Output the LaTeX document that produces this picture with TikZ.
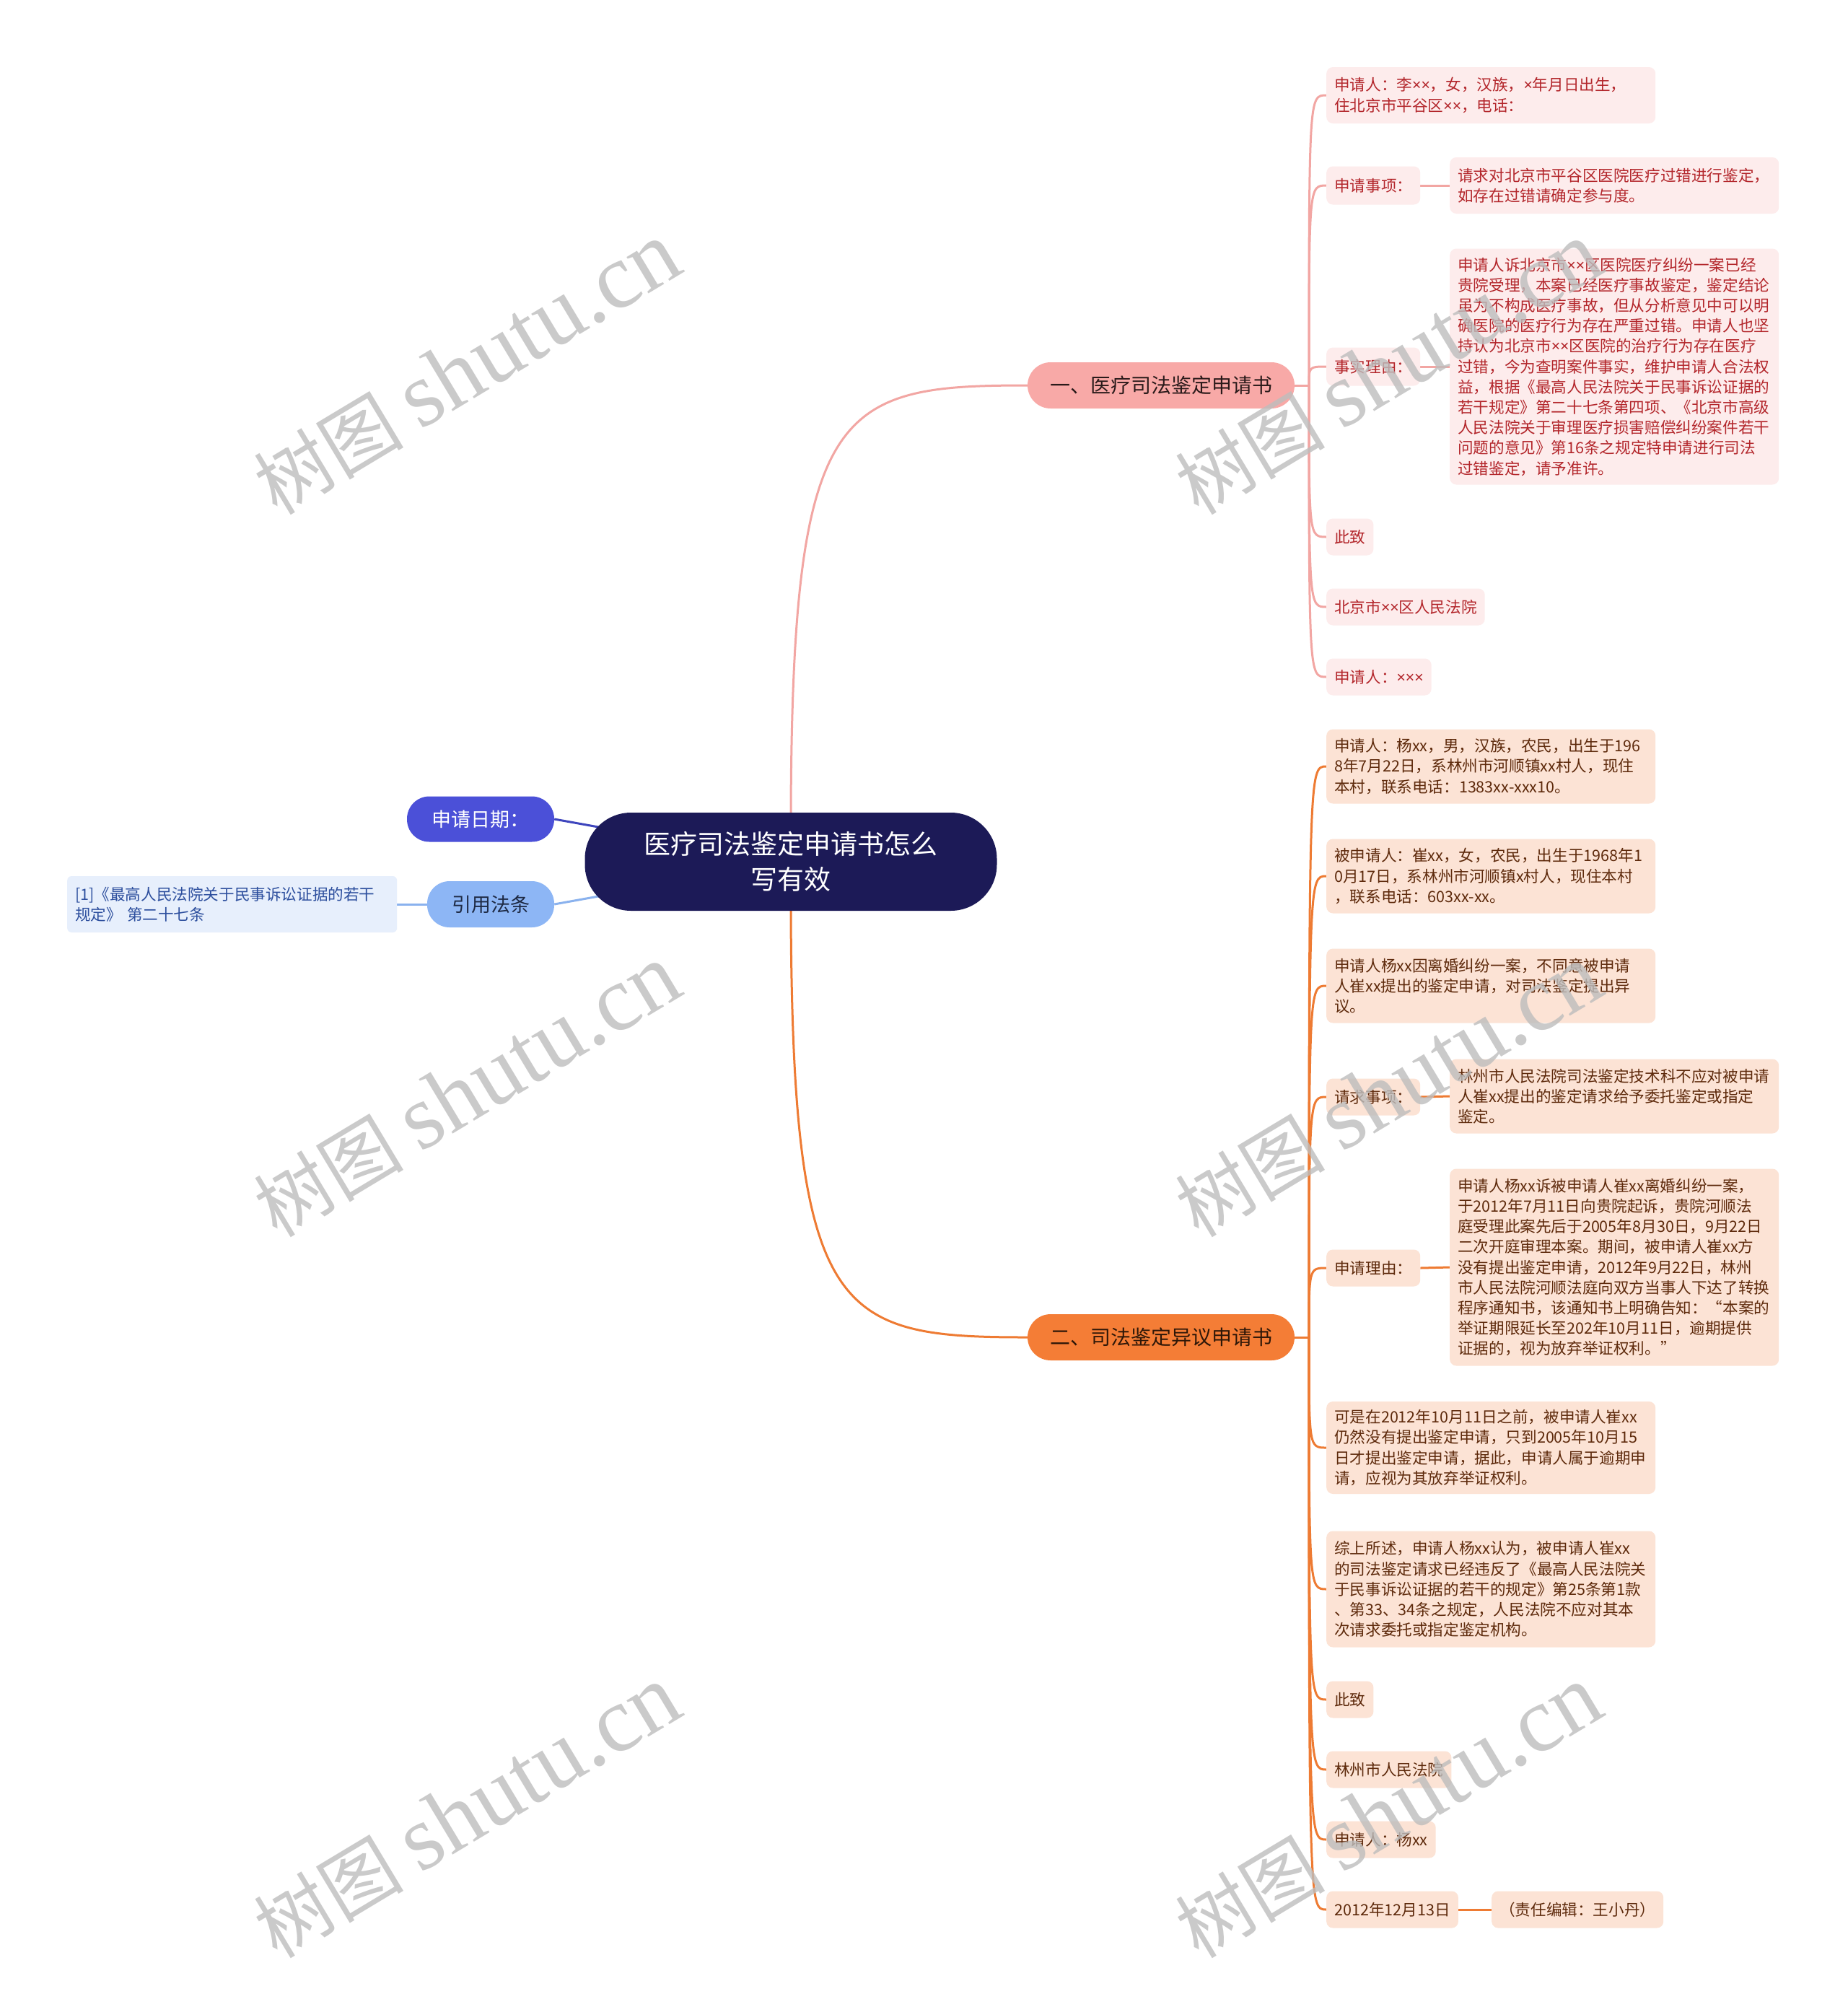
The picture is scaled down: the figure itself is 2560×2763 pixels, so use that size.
\documentclass[tikz,border=0pt]{standalone}
\usepackage{fontspec}
\setmainfont{Noto Sans CJK SC}
\newfontfamily\wmlatin{Liberation Serif}
\newfontfamily\wmcjk{Noto Sans CJK SC}
\newfontfamily\narrowf{Noto Sans}
\newcommand\tm{{\narrowf ×}}
\usetikzlibrary{backgrounds}
\definecolor{rootc}{HTML}{1C1A57}
\definecolor{pinkb}{HTML}{F8A9A7}
\definecolor{pinkbt}{HTML}{2A1A1A}
\definecolor{pinkl}{HTML}{F2A6A3}
\definecolor{pinkf}{HTML}{FDECEC}
\definecolor{pinkt}{HTML}{B3262B}
\definecolor{orab}{HTML}{F47D36}
\definecolor{orabt}{HTML}{2E1708}
\definecolor{oral}{HTML}{EE7B33}
\definecolor{oraf}{HTML}{FCE3D5}
\definecolor{orat}{HTML}{5E2A0C}
\definecolor{datec}{HTML}{4B50D8}
\definecolor{datel}{HTML}{3E45BD}
\definecolor{lawc}{HTML}{8DB6F5}
\definecolor{lawtc}{HTML}{1E2A44}
\definecolor{lawl}{HTML}{8AB2EE}
\definecolor{lawf}{HTML}{E7EFFC}
\definecolor{lawt}{HTML}{2D4F9E}
\definecolor{wmc}{HTML}{BDBDBD}
\newcommand\leaffont{\fontsize{21.6}{28.2}\selectfont}
\tikzset{
  leafbase/.style={font=\leaffont, inner xsep=11pt, inner ysep=0pt, rounded corners=9pt, anchor=west, align=left},
  pleaf/.style={leafbase, fill=pinkf, text=pinkt},
  oleaf/.style={leafbase, fill=oraf, text=orat},
  lawleaf/.style={leafbase, fill=lawf, text=lawt, rounded corners=6pt},
  plink/.style={draw=pinkl, line width=3pt},
  olink/.style={draw=oral, line width=3pt},
  branchn/.style={rounded corners=32pt, minimum width=370pt, minimum height=64pt, font=\fontsize{28}{34}\selectfont, inner sep=0pt},
  rootn/.style={rounded corners=64pt, minimum width=571pt, minimum height=136pt, fill=rootc, text=white, font=\fontsize{37}{49}\selectfont, align=center, inner sep=0pt},
  pilln/.style={rounded corners=31pt, minimum height=63pt, font=\fontsize{27}{34}\selectfont, inner sep=0pt},
  wmark/.style={text=wmc, text opacity=0.8, rotate=31, inner sep=0pt},
}
\begin{document}
\begin{tikzpicture}[x=1pt,y=-1pt]
\begin{scope}[on background layer]
\fill[white] (0,0) rectangle (2560,2763);
\end{scope}
\useasboundingbox (0,0) rectangle (2560,2763);

% central and main nodes
\node[rootn] (root) at (1096,1194) {医疗司法鉴定申请书怎么\\写有效};
\node[branchn, fill=pinkb, text=pinkbt] (b1) at (1609,534) {一、医疗司法鉴定申请书};
\node[branchn, fill=orab, text=orabt] (b2) at (1609,1853) {二、司法鉴定异议申请书};
\node[pilln, fill=datec, text=white, minimum width=204pt] (date) at (666,1135) {申请日期：};
\node[pilln, fill=lawc, text=lawtc, minimum width=176pt, minimum height=64pt] (law) at (680,1253) {引用法条};
\node[lawleaf, text width=435pt, minimum height=78pt] (lawc) at (93,1253) {[1]《最高人民法院关于民事诉讼证据的若干\\规定》 第二十七条};

% branch 1 children
\node[pleaf, text width=434pt, minimum height=78pt] (p1) at (1838,132) {申请人：李\tm\tm，女，汉族，\tm 年月日出生，\\住北京市平谷区\tm\tm，电话：};
\node[pleaf, minimum height=53pt] (p2) at (1838,257) {申请事项：};
\node[pleaf, text width=434pt, minimum height=78pt] (p2c) at (2009,257) {请求对北京市平谷区医院医疗过错进行鉴定，\\如存在过错请确定参与度。};
\node[pleaf, minimum height=53pt] (p3) at (1838,508) {事实理由：};
\node[pleaf, text width=434pt, minimum height=327pt] (p3c) at (2009,508) {申请人诉北京市\tm\tm 区医院医疗纠纷一案已经\\贵院受理，本案已经医疗事故鉴定，鉴定结论\\虽为不构成医疗事故，但从分析意见中可以明\\确医院的医疗行为存在严重过错。申请人也坚\\持认为北京市\tm\tm 区医院的治疗行为存在医疗\\过错，今为查明案件事实，维护申请人合法权\\益，根据《最高人民法院关于民事诉讼证据的\\若干规定》第二十七条第四项、《北京市高级\\人民法院关于审理医疗损害赔偿纠纷案件若干\\问题的意见》第16条之规定特申请进行司法\\过错鉴定，请予准许。};
\node[pleaf, minimum height=51pt] (p4) at (1838,744) {此致};
\node[pleaf, minimum height=51pt] (p5) at (1838,841) {北京市\tm\tm 区人民法院};
\node[pleaf, minimum height=51pt] (p6) at (1838,938) {申请人：\tm\tm\tm};

% branch 2 children
\node[oleaf, text width=434pt, minimum height=103pt] (o1) at (1838,1062) {申请人：杨xx，男，汉族，农民，出生于196\\8年7月22日，系林州市河顺镇xx村人，现住\\本村，联系电话：1383xx-xxx10。};
\node[oleaf, text width=434pt, minimum height=103pt] (o2) at (1838,1214) {被申请人：崔xx，女，农民，出生于1968年1\\0月17日，系林州市河顺镇x村人，现住本村\\，联系电话：603xx-xx。};
\node[oleaf, text width=434pt, minimum height=103pt] (o3) at (1838,1366) {申请人杨xx因离婚纠纷一案，不同意被申请\\人崔xx提出的鉴定申请，对司法鉴定提出异\\议。};
\node[oleaf, minimum height=51pt] (o4) at (1838,1520) {请求事项：};
\node[oleaf, text width=434pt, minimum height=103pt] (o4c) at (2009,1519) {林州市人民法院司法鉴定技术科不应对被申请\\人崔xx提出的鉴定请求给予委托鉴定或指定\\鉴定。};
\node[oleaf, minimum height=51pt] (o5) at (1838,1757) {申请理由：};
\node[oleaf, text width=434pt, minimum height=273pt] (o5c) at (2009,1756) {申请人杨xx诉被申请人崔xx离婚纠纷一案，\\于2012年7月11日向贵院起诉，贵院河顺法\\庭受理此案先后于2005年8月30日，9月22日\\二次开庭审理本案。期间，被申请人崔xx方\\没有提出鉴定申请，2012年9月22日，林州\\市人民法院河顺法庭向双方当事人下达了转换\\程序通知书，该通知书上明确告知：“本案的\\举证期限延长至202年10月11日，逾期提供\\证据的，视为放弃举证权利。”};
\node[oleaf, text width=434pt, minimum height=128pt] (o6) at (1838,2006) {可是在2012年10月11日之前，被申请人崔xx\\仍然没有提出鉴定申请，只到2005年10月15\\日才提出鉴定申请，据此，申请人属于逾期申\\请，应视为其放弃举证权利。};
\node[oleaf, text width=434pt, minimum height=161pt] (o7) at (1838,2202) {综上所述，申请人杨xx认为，被申请人崔xx\\的司法鉴定请求已经违反了《最高人民法院关\\于民事诉讼证据的若干的规定》第25条第1款\\、第33、34条之规定，人民法院不应对其本\\次请求委托或指定鉴定机构。};
\node[oleaf, minimum height=51pt] (o8) at (1838,2355) {此致};
\node[oleaf, minimum height=51pt] (o9) at (1838,2452) {林州市人民法院};
\node[oleaf, minimum height=51pt] (o10) at (1838,2549) {申请人：杨xx};
\node[oleaf, minimum height=51pt] (o11) at (1838,2646) {2012年12月13日};
\node[oleaf, minimum height=51pt] (o11c) at (2067,2646) {（责任编辑：王小丹）};

% connectors
\begin{scope}[on background layer]
\coordinate (s1) at (1814,534);
\coordinate (s2) at (1814,1853);
\draw[plink] (root.north) .. controls (1098,560) and (1160,534) .. (b1.west);
\draw[olink] (root.south) .. controls (1098,1828) and (1160,1853) .. (b2.west);
\draw[datel, line width=3pt] (date.east) -- (root.center);
\draw[lawl, line width=3pt] (law.east) -- (root.center);
\draw[lawl, line width=3pt] (lawc.east) -- (law.west);
\draw[plink] (b1.east) -- (s1);
\draw[olink] (b2.east) -- (s2);
\foreach \n in {p1,p2,p3,p4,p5,p6}
  \draw[plink] (s1) .. controls (s1 |- \n.west) and (s1 |- \n.west) .. (\n.west);
\foreach \n in {o1,o2,o3,o4,o5,o6,o7,o8,o9,o10,o11}
  \draw[olink] (s2) .. controls (s2 |- \n.west) and (s2 |- \n.west) .. (\n.west);
\draw[plink] (p2.east) -- (p2c.west);
\draw[plink] (p3.east) -- (p3c.west);
\draw[olink] (o4.east) -- (o4c.west);
\draw[olink] (o5.east) -- (o5c.west);
\draw[olink] (o11.east) -- (o11c.west);
\end{scope}

% watermarks
\foreach \wx/\wy [count=\i] in {647/511, 1924/511, 647/1512, 1924/1512, 647/2511, 1924/2511}
  \node[wmark] (wm\i) at (\wx,\wy) {\fontsize{104}{118}\selectfont\wmcjk 树图\ \wmlatin\fontsize{128}{140}\selectfont shutu.cn};
\end{tikzpicture}
\end{document}
